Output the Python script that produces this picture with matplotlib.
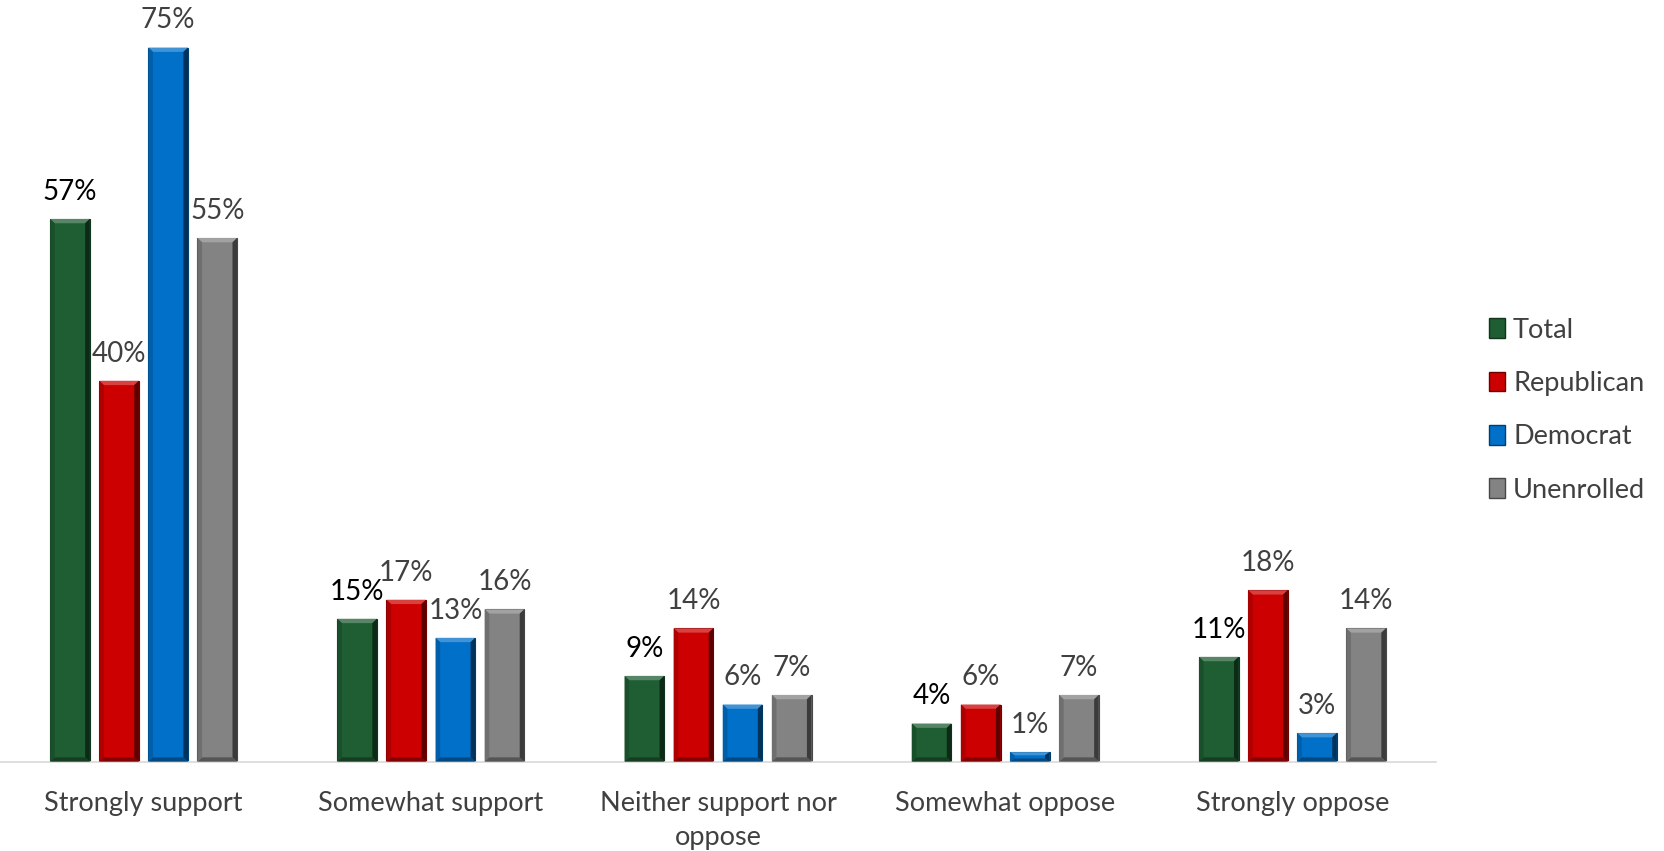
import matplotlib
matplotlib.use("Agg")
import matplotlib.pyplot as plt
import matplotlib.colors as mcolors
from matplotlib.patches import Polygon, Patch
import numpy as np

categories = ["Strongly support", "Somewhat support", "Neither support nor\noppose",
              "Somewhat oppose", "Strongly oppose"]
series = ["Total", "Republican", "Democrat", "Unenrolled"]
total = [57, 15, 9, 4, 11]
republican = [40, 17, 14, 6, 18]
democrat = [75, 13, 6, 1, 3]
unenrolled = [55, 16, 7, 7, 14]
values = [total, republican, democrat, unenrolled]
colors = ["#1e5e32", "#cc0000", "#0070c8", "#838383"]
label_colors = ["#000000", "#404040", "#404040", "#404040"]

plt.rcParams['font.family'] = ['Lato', 'DejaVu Sans']

fig = plt.figure(figsize=(16.65, 8.51), dpi=100)
ax = fig.add_axes([0.0, 0.105, 0.8625, 0.895])

x = np.arange(len(categories))
width = 0.138
step = 0.171
bx = 0.016   # bevel width in data x
by = 0.45    # bevel height in data y


def shade(c, f):
    r, g, b = mcolors.to_rgb(c)
    if f > 0:
        return (r + (1 - r) * f, g + (1 - g) * f, b + (1 - b) * f)
    return (r * (1 + f), g * (1 + f), b * (1 + f))


for i, (vals, col) in enumerate(zip(values, colors)):
    xs = x + (i - 1.5) * step
    ax.bar(xs, vals, width, color=col, edgecolor=shade(col, -0.45), linewidth=0.8, zorder=2)
    for xc, v in zip(xs, vals):
        l, r = xc - width / 2, xc + width / 2
        b_y = min(by, v / 3.0)
        b_x = min(bx, width / 4)
        # top highlight, right shadow, bottom shadow, left light
        ax.add_patch(Polygon([(l, v), (r, v), (r - b_x, v - b_y), (l + b_x, v - b_y)],
                             closed=True, color=shade(col, 0.25), lw=0, zorder=3))
        ax.add_patch(Polygon([(r, v), (r, 0), (r - b_x, b_y), (r - b_x, v - b_y)],
                             closed=True, color=shade(col, -0.55), lw=0, zorder=3))
        ax.add_patch(Polygon([(l, 0), (r, 0), (r - b_x, b_y), (l + b_x, b_y)],
                             closed=True, color=shade(col, -0.35), lw=0, zorder=3))
        ax.add_patch(Polygon([(l, v), (l, 0), (l + b_x, b_y), (l + b_x, v - b_y)],
                             closed=True, color=shade(col, -0.15), lw=0, zorder=3))
        ax.text(xc, v + 1.5, f"{v}%", ha="center", va="bottom", fontsize=20,
                color=label_colors[i], zorder=4)

ax.set_xlim(-0.5, len(categories) - 0.5)
ax.set_ylim(0, 80)
ax.set_yticks([])
ax.set_xticks(x)
ax.set_xticklabels(categories, fontsize=19.5, color="#404040", linespacing=1.45)
ax.tick_params(axis="x", length=0, pad=21)
for s in ["top", "right", "left"]:
    ax.spines[s].set_visible(False)
ax.spines["bottom"].set_color("#d9d9d9")
ax.spines["bottom"].set_linewidth(1.2)

handles = [Patch(facecolor=c, edgecolor=shade(c, -0.45)) for c in colors]
leg = fig.legend(handles, series, loc="center left", bbox_to_anchor=(0.8795, 0.518),
                 frameon=False, fontsize=19.5, labelcolor="#404040",
                 handlelength=0.6, handleheight=0.75, handletextpad=0.3, labelspacing=1.05)

fig.savefig("out.png", dpi=100)
